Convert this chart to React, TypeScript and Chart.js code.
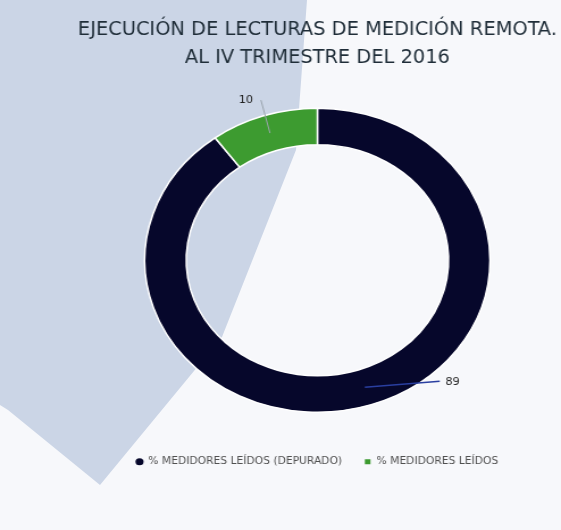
import React, { useEffect, useRef } from "react";
import { Chart, registerables } from "chart.js";

Chart.register(...registerables);

const titleLines = ["EJECUCIÓN DE LECTURAS DE MEDICIÓN REMOTA.", "AL IV TRIMESTRE DEL 2016"];
const categories = ["% MEDIDORES LEÍDOS (DEPURADO)", "% MEDIDORES LEÍDOS"];
const values = [89, 10];
const sliceColors = ["#06072b", "#3d9b30"];
const legendMarkers = ["circle", "rect"];

const FONT = '"Liberation Sans Narrow", "DejaVu Sans Condensed", "Liberation Sans", sans-serif';
const SX = 1.1356;
const W = 561;
const H = 530;

const leaderLabelPlugin = {
  id: "leaderLabels",
  afterDatasetsDraw(chart: any, _args: any, opts: any) {
    const meta = chart.getDatasetMeta(0);
    const ctx = chart.ctx;
    meta.data.forEach((arc: any, i: number) => {
      const p = arc.getProps(["x", "y", "startAngle", "endAngle", "innerRadius", "outerRadius"], true);
      const a = (p.startAngle + p.endAngle) / 2;
      const r = (p.innerRadius + p.outerRadius) / 2;
      const ax = p.x + Math.cos(a) * r;
      const ay = p.y + Math.sin(a) * r;
      const o = opts.leaders[i];
      const ex = ax + o.dx;
      const ey = ay + o.dy;
      ctx.save();
      ctx.strokeStyle = o.color;
      ctx.lineWidth = o.width;
      ctx.beginPath();
      ctx.moveTo(ax, ay);
      ctx.lineTo(ex, ey);
      ctx.stroke();
      ctx.fillStyle = opts.color;
      ctx.font = opts.font;
      ctx.textAlign = o.align;
      ctx.textBaseline = "middle";
      ctx.fillText(
        String(chart.data.datasets[0].data[i]),
        ex + (o.align === "left" ? o.gap : -o.gap),
        ey + o.ty
      );
      ctx.restore();
    });
  },
};

export default function App() {
  const canvasRef = useRef<HTMLCanvasElement | null>(null);

  useEffect(() => {
    if (!canvasRef.current) return;
    const chart = new Chart(canvasRef.current, {
      type: "doughnut",
      data: {
        labels: categories,
        datasets: [
          {
            data: values,
            backgroundColor: sliceColors,
            borderColor: "#ffffff",
            borderWidth: 1.5,
            radius: 152,
            cutout: "76%",
          } as any,
        ],
      },
      options: {
        animation: false,
        responsive: true,
        maintainAspectRatio: false,
        layout: { padding: { top: 8, bottom: 53, left: 65, right: 0 } },
        plugins: {
          title: {
            display: true,
            text: titleLines,
            color: "#1f2d38",
            font: { family: FONT, size: 19, weight: "normal", lineHeight: 1.47 },
            padding: { top: 8, bottom: 12 },
          },
          legend: {
            position: "bottom",
            labels: {
              color: "#505050",
              font: { family: FONT, size: 10.5 },
              usePointStyle: true,
              boxWidth: 5,
              boxHeight: 5,
              padding: 20,
              generateLabels: (chart: any) => {
                const ds = chart.data.datasets[0];
                return chart.data.labels.map((lab: string, i: number) => ({
                  text: lab,
                  fillStyle: ds.backgroundColor[i],
                  strokeStyle: ds.backgroundColor[i],
                  fontColor: "#505050",
                  lineWidth: 0,
                  pointStyle: legendMarkers[i],
                  hidden: !chart.getDataVisibility(i),
                  index: i,
                }));
              },
            },
          },
          tooltip: { enabled: false },
          leaderLabels: {
            color: "#222222",
            font: `11px ${FONT}`,
            leaders: [
              { dx: 66, dy: -6, color: "#2a3fa0", width: 1.5, align: "left", gap: 5, ty: 1 },
              { dx: -8, dy: -33, color: "#9aa4ad", width: 1, align: "right", gap: 7, ty: 0 },
            ],
          },
        } as any,
      },
      plugins: [leaderLabelPlugin],
    });
    return () => chart.destroy();
  }, []);

  return (
    <div style={{ position: "absolute", left: 0, top: 0, width: W, height: H, overflow: "hidden", background: "#f7f8fb" }}>
      <div
        style={{
          position: "absolute",
          left: 0,
          top: 0,
          width: W,
          height: H,
          background: "#cbd5e6",
          clipPath:
            "polygon(0px 0px, 307px 0px, 296px 150px, 222px 337px, 100px 485px, 8px 410px, 0px 405px)",
        }}
      />
      <div
        style={{
          position: "absolute",
          left: 0,
          top: 0,
          width: W / SX,
          height: H,
          transform: `scaleX(${SX})`,
          transformOrigin: "0 0",
        }}
      >
        <canvas ref={canvasRef} />
      </div>
    </div>
  );
}
